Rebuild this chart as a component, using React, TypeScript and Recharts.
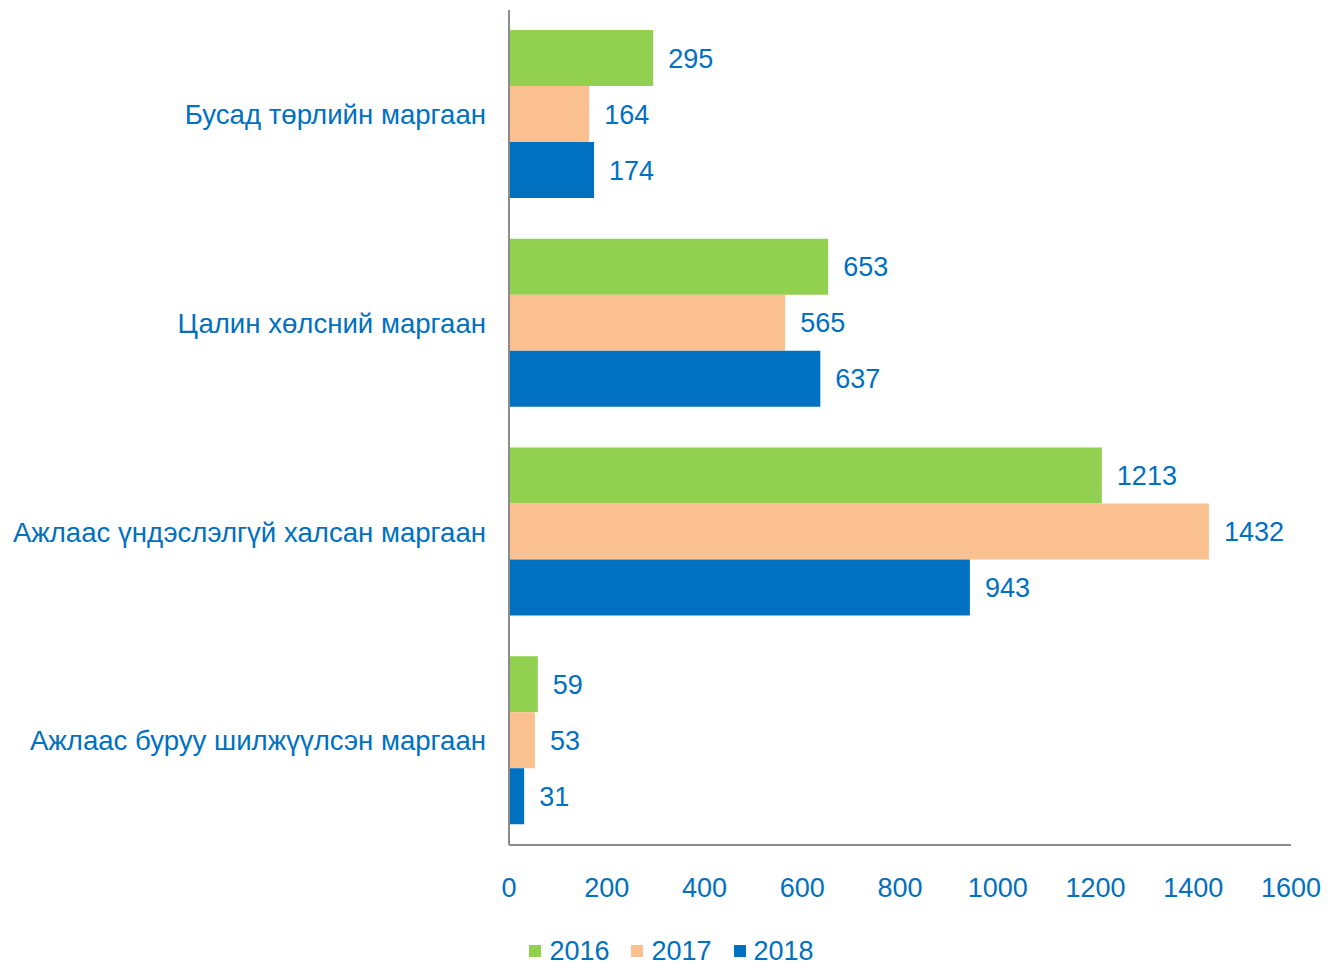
import { Bar, BarChart, LabelList, Legend, XAxis, YAxis } from 'recharts'

const categories = [
  'Бусад төрлийн маргаан',
  'Цалин хөлсний маргаан',
  'Ажлаас үндэслэлгүй халсан маргаан',
  'Ажлаас буруу шилжүүлсэн маргаан',
]
const values2016 = [295, 653, 1213, 59]
const values2017 = [164, 565, 1432, 53]
const values2018 = [174, 637, 943, 31]
const xTicks = [0, 200, 400, 600, 800, 1000, 1200, 1400, 1600]

const series = [
  { key: 'y2016', name: '2016', color: '#92D050' },
  { key: 'y2017', name: '2017', color: '#FAC090' },
  { key: 'y2018', name: '2018', color: '#0070C0' },
]

const data = categories.map((name, i) => ({
  name,
  y2016: values2016[i],
  y2017: values2017[i],
  y2018: values2018[i],
}))

const textColor = '#0070C0'
const font = '"Liberation Sans", Arial, sans-serif'

function LegendContent() {
  return (
    <div
      style={{
        display: 'flex',
        justifyContent: 'center',
        gap: 22,
        fontFamily: font,
        fontSize: 27,
        lineHeight: '24px',
        color: textColor,
        paddingLeft: 6,
      }}
    >
      {series.map((s) => (
        <div key={s.key} style={{ display: 'flex', alignItems: 'center' }}>
          <span
            style={{
              width: 12,
              height: 12,
              background: s.color,
              display: 'inline-block',
              marginRight: 8,
            }}
          />
          {s.name}
        </div>
      ))}
    </div>
  )
}

export default function App() {
  document.body.style.margin = '0'
  return (
    <div style={{ width: 1337, height: 964, background: '#fff', fontFamily: font }}>
      <BarChart
        width={1337}
        height={964}
        data={data}
        layout="vertical"
        margin={{ top: 10, right: 46, bottom: 0, left: 0 }}
        barCategoryGap={20}
        barGap={0}
      >
        <XAxis
          type="number"
          domain={[0, 1600]}
          ticks={xTicks}
          tickLine={false}
          tickSize={0}
          tickMargin={33}
          height={95}
          axisLine={{ stroke: '#8c8c8c', strokeWidth: 2 }}
          tick={{ fill: textColor, fontSize: 27, fontFamily: font }}
          interval={0}
        />
        <YAxis
          type="category"
          dataKey="name"
          width={509}
          tickLine={false}
          tickSize={0}
          tickMargin={23}
          axisLine={{ stroke: '#8c8c8c', strokeWidth: 2 }}
          tick={{ fill: textColor, fontSize: 27.6, fontFamily: font }}
          interval={0}
        />
        <Legend
          content={<LegendContent />}
          wrapperStyle={{ top: 939, left: 0, width: 1337 }}
        />
        {series.map((s) => (
          <Bar key={s.key} dataKey={s.key} name={s.name} fill={s.color} isAnimationActive={false}>
            <LabelList
              dataKey={s.key}
              position="right"
              offset={15}
              fill={textColor}
              fontSize={27}
              fontFamily={font}
            />
          </Bar>
        ))}
      </BarChart>
    </div>
  )
}
